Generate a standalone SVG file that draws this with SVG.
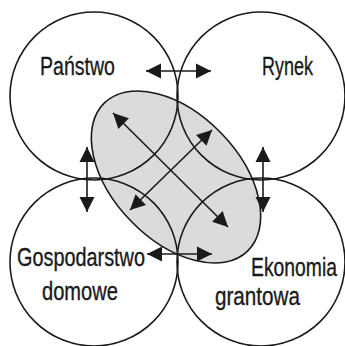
<svg xmlns="http://www.w3.org/2000/svg" width="345" height="346" viewBox="0 0 345 346">
<defs>
<marker id="ah" markerUnits="userSpaceOnUse" markerWidth="16" markerHeight="16" viewBox="0 0 16 16" refX="15" refY="8" orient="auto-start-reverse">
<path d="M0,0.5 L15,8 L0,15.5 z" fill="#1a1a1a"/>
</marker>
<style>
.c{fill:none;stroke:#1a1a1a;stroke-width:1.6}
.e{fill:#dadbdd;stroke:#1a1a1a;stroke-width:1.6}
.a{stroke:#1a1a1a;stroke-width:1.6;fill:none;marker-start:url(#ah);marker-end:url(#ah)}
text{font-family:"Liberation Sans","DejaVu Sans",sans-serif;font-size:26px;fill:#1a1a1a;stroke:#1a1a1a;stroke-width:0.35}
</style>
</defs>
<rect width="345" height="346" fill="#fff"/>
<g id="centre">
<ellipse class="e" cx="176" cy="177" rx="103" ry="63" transform="rotate(46 176 177)"/>
</g>
<g id="panstwo">
<circle class="c" cx="94" cy="96" r="84"/>
<text x="40" y="75" textLength="75" lengthAdjust="spacingAndGlyphs">Państwo</text>
</g>
<g id="rynek">
<circle class="c" cx="261" cy="96" r="84"/>
<text x="262" y="75" textLength="51" lengthAdjust="spacingAndGlyphs">Rynek</text>
</g>
<g id="gospodarstwo">
<circle class="c" cx="94" cy="262" r="84"/>
<text x="17" y="266" textLength="128" lengthAdjust="spacingAndGlyphs">Gospodarstwo</text>
<text x="42" y="300" textLength="76" lengthAdjust="spacingAndGlyphs">domowe</text>
</g>
<g id="ekonomia">
<circle class="c" cx="261" cy="262" r="84"/>
<text x="251" y="276" textLength="86" lengthAdjust="spacingAndGlyphs">Ekonomia</text>
<text x="215" y="305" textLength="85" lengthAdjust="spacingAndGlyphs">grantowa</text>
</g>
<g id="connectors">
<line class="a" x1="146" y1="71" x2="211" y2="71"/>
<line class="a" x1="147" y1="254" x2="212" y2="254"/>
<line class="a" x1="87" y1="147" x2="87" y2="212"/>
<line class="a" x1="263" y1="147" x2="263" y2="212"/>
<line class="a" x1="113" y1="113" x2="228" y2="227"/>
<line class="a" x1="212" y1="130" x2="130" y2="210"/>
</g>
</svg>
